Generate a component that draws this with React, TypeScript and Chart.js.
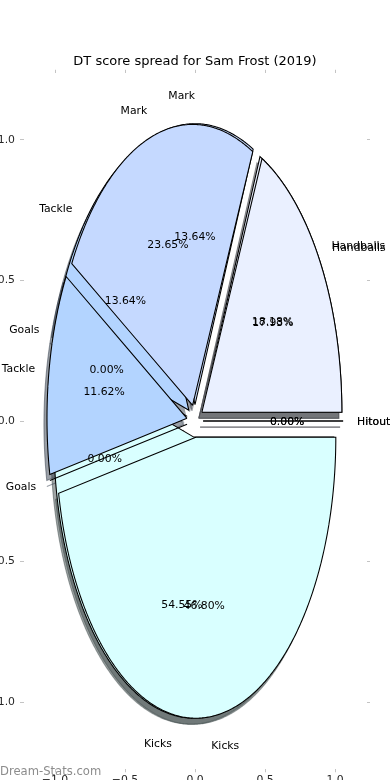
import React, { useEffect, useRef } from 'react';
import { Chart, registerables } from 'chart.js';

Chart.register(...registerables);

// ---------- data ----------
const TITLE = 'DT score spread for Sam Frost (2019)';
const CATEGORIES = ['Handballs', 'Mark', 'Tackle', 'Goals', 'Kicks', 'Hitout'];
const PIE_A_VALUES = [4, 3, 3, 0, 12, 0];
const PIE_B_VALUES = [17.93, 23.65, 11.62, 0, 46.8, 0];
const WEDGE_COLORS = ['#eaf0ff', '#c5d9ff', '#b3d4ff', '#a6ccff', '#d9ffff', '#f0f4ff'];
const EXPLODE = [0.058, 0.058, 0.058, 0.058, 0.058, 0.058];
const AXIS_TICKS = [-1, -0.5, 0, 0.5, 1];
const WATERMARK = 'Dream-Stats.com';

// ---------- geometry / style ----------
const FONT = 'DejaVu Sans';
const LABEL_DIST = 1.1;
const PCT_DIST = 0.6;
const SHADOW_OFF = -0.02 * 78 / 72;
const TEXT_SIZE = 10.83;
const TEXT_DY = 1.0;
const OFF_X = 40; // canvas extends beyond the page on both sides
const CW = 390 + 2 * OFF_X;
const CH = 800;
const AREA_LEFT = 23.5 + OFF_X;
const AREA_TOP = 73.25;
const AREA_BOTTOM = 768.75;
const TITLE_PAD_TOP = 53.4;
const TITLE_LINE = 13 * 1.2;

type Wedge = { i: number; t1: number; t2: number; cx: number; cy: number; tm: number; pct: string };

function buildPie(values: number[]): Wedge[] {
  const sum = values.reduce((a, b) => a + b, 0);
  let theta1 = 0;
  return values.map((v, i) => {
    const frac = v / sum;
    const theta2 = theta1 + frac;
    const tm = 2 * Math.PI * 0.5 * (theta1 + theta2);
    const cx = EXPLODE[i] * Math.cos(tm);
    const cy = EXPLODE[i] * Math.sin(tm);
    const w = { i, t1: 360 * theta1, t2: 360 * theta2, cx, cy, tm, pct: (100 * frac).toFixed(2) + '%' };
    theta1 = theta2;
    return w;
  });
}

function wedgePoints(w: Wedge, dx: number, dy: number) {
  const pts: { x: number; y: number }[] = [];
  pts.push({ x: w.cx + dx, y: w.cy + dy });
  const n = Math.max(1, Math.ceil((w.t2 - w.t1) / 0.5));
  for (let k = 0; k <= n; k++) {
    const a = ((w.t1 + ((w.t2 - w.t1) * k) / n) * Math.PI) / 180;
    pts.push({ x: w.cx + dx + Math.cos(a), y: w.cy + dy + Math.sin(a) });
  }
  pts.push({ x: w.cx + dx, y: w.cy + dy });
  return pts;
}

function hexRgb(h: string) {
  const n = parseInt(h.slice(1), 16);
  return [(n >> 16) & 255, (n >> 8) & 255, n & 255];
}

const pieA = buildPie(PIE_A_VALUES);
const pieB = buildPie(PIE_B_VALUES);

function buildDatasets() {
  const list: any[] = [];
  for (const pie of [pieA, pieB]) {
    for (const w of pie) {
      const [r, g, b] = hexRgb(WEDGE_COLORS[w.i]);
      const c = `rgba(${0.3 * r},${0.3 * g},${0.3 * b},0.5)`;
      list.push({
        data: wedgePoints(w, SHADOW_OFF, SHADOW_OFF),
        backgroundColor: c,
        borderColor: c,
        borderWidth: 1.08,
      });
    }
  }
  for (const pie of [pieA, pieB]) {
    for (const w of pie) {
      list.push({
        label: CATEGORIES[w.i],
        data: wedgePoints(w, 0, 0),
        backgroundColor: WEDGE_COLORS[w.i],
        borderColor: '#000000',
        borderWidth: 1.08,
      });
    }
  }
  const N = list.length;
  return list.map((d, j) => ({
    ...d,
    showLine: true,
    fill: 'shape',
    tension: 0.000001,
    pointRadius: 0,
    pointHoverRadius: 0,
    pointHitRadius: 0,
    borderJoinStyle: 'miter',
    order: N - j,
  }));
}

const fmtTick = (v: number) => (v < 0 ? '\u2212' + Math.abs(v).toFixed(1) : Math.abs(v).toFixed(1));

const textPlugin = {
  id: 'pieTexts',
  afterDatasetsDraw(chart: any) {
    const { ctx } = chart;
    const xs = chart.scales.x;
    const ys = chart.scales.y;
    ctx.save();
    ctx.fillStyle = '#000000';
    ctx.font = `${TEXT_SIZE}px "${FONT}"`;
    ctx.textBaseline = 'middle';
    for (const pie of [pieA, pieB]) {
      for (const w of pie) {
        const lx = w.cx + LABEL_DIST * Math.cos(w.tm);
        const ly = w.cy + LABEL_DIST * Math.sin(w.tm);
        ctx.textAlign = lx > 1e-9 ? 'left' : 'right';
        ctx.fillText(CATEGORIES[w.i], xs.getPixelForValue(lx), ys.getPixelForValue(ly) + TEXT_DY);
        const px = w.cx + PCT_DIST * Math.cos(w.tm);
        const py = w.cy + PCT_DIST * Math.sin(w.tm);
        ctx.textAlign = 'center';
        ctx.fillText(w.pct, xs.getPixelForValue(px), ys.getPixelForValue(py) + TEXT_DY);
      }
    }
    ctx.font = `11.6px "${FONT}"`;
    ctx.fillStyle = '#8c8c8c';
    ctx.textAlign = 'left';
    ctx.textBaseline = 'alphabetic';
    ctx.fillText(WATERMARK, OFF_X, 774.5);
    ctx.restore();
  },
};

function axis(position: string, lim: number, showLabels: boolean, fit: (s: any) => void) {
  return {
    type: 'linear',
    position,
    min: -lim,
    max: lim,
    afterBuildTicks: (s: any) => {
      s.ticks = AXIS_TICKS.map((v) => ({ value: v }));
    },
    afterFit: fit,
    border: { display: false },
    grid: {
      display: true,
      drawOnChartArea: false,
      drawTicks: true,
      tickLength: 3.5,
      color: '#c4c4c4',
      lineWidth: 1,
    },
    ticks: {
      display: showLabels,
      callback: (v: number) => fmtTick(v),
      color: '#262626',
      font: { family: FONT, size: TEXT_SIZE },
      padding: position === 'left' ? 5 : 1,
      maxRotation: 0,
      autoSkip: false,
    },
  };
}

export default function App() {
  const ref = useRef<HTMLCanvasElement>(null);
  useEffect(() => {
    if (!ref.current) return;
    const titleH = TITLE_PAD_TOP + TITLE_LINE;
    const chart = new Chart(ref.current, {
      type: 'scatter',
      data: { datasets: buildDatasets() },
      options: {
        animation: false,
        responsive: false,
        devicePixelRatio: 1,
        events: [],
        layout: { padding: 0 },
        plugins: {
          legend: { display: false },
          tooltip: { enabled: false },
          title: {
            display: true,
            text: TITLE,
            color: '#000000',
            font: { family: FONT, size: 13, weight: 'normal', lineHeight: 1.2 },
            padding: { top: TITLE_PAD_TOP, bottom: 0 },
          },
        },
        scales: {
          x: axis('bottom', 1.225, true, (s: any) => { s.height = CH - AREA_BOTTOM; }),
          x2: axis('top', 1.225, false, (s: any) => { s.height = AREA_TOP - titleH; }),
          y: axis('left', 1.2375, true, (s: any) => { s.width = AREA_LEFT; }),
          y2: axis('right', 1.2375, false, (s: any) => { s.width = AREA_LEFT; }),
        },
      } as any,
      plugins: [textPlugin],
    });
    return () => chart.destroy();
  }, []);
  return (
    <div style={{ position: 'fixed', left: 0, top: 0, width: 390, height: 780, overflow: 'hidden', background: '#ffffff' }}>
      <canvas
        ref={ref}
        width={CW}
        height={CH}
        style={{ position: 'absolute', left: -OFF_X, top: 0, width: CW, height: CH }}
      />
    </div>
  );
}
